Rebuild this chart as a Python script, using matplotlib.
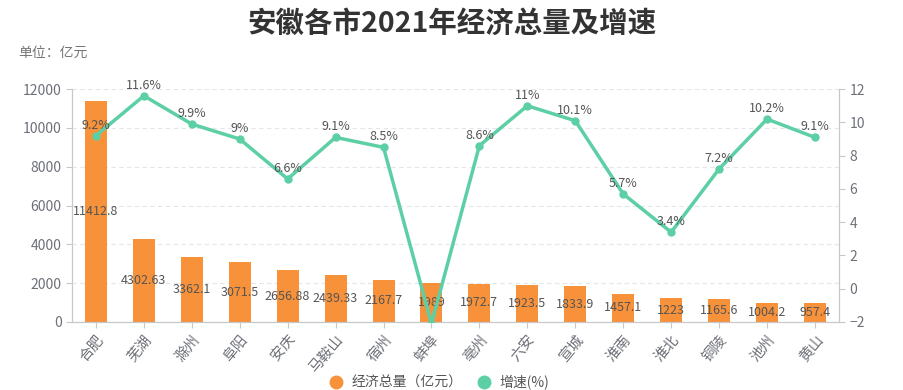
import matplotlib
matplotlib.use("Agg")
import matplotlib.pyplot as plt
from matplotlib.lines import Line2D

plt.rcParams['font.family'] = ['Noto Sans CJK SC', 'DejaVu Sans']

cities = ["合肥", "芜湖", "滁州", "阜阳", "安庆", "马鞍山", "宿州", "蚌埠",
          "亳州", "六安", "宣城", "淮南", "淮北", "铜陵", "池州", "黄山"]
gdp = [11412.8, 4302.63, 3362.1, 3071.5, 2656.88, 2439.33, 2167.7, 1989,
       1972.7, 1923.5, 1833.9, 1457.1, 1223, 1165.6, 1004.2, 957.4]
growth = [9.2, 11.6, 9.9, 9, 6.6, 9.1, 8.5, -2.1, 8.6, 11, 10.1, 5.7, 3.4, 7.2, 10.2, 9.1]
left_ticks = [0, 2000, 4000, 6000, 8000, 10000, 12000]
right_ticks = [-2, 0, 2, 4, 6, 8, 10, 12]

orange = "#f7923b"
green = "#5ccfa5"
axis_col = "#c8c8c8"
tick_col = "#6e7079"

fig = plt.figure(figsize=(9.04, 3.9), dpi=100)
ax = fig.add_axes([0.0796, 0.1744, 0.8484, 0.597])
ax2 = ax.twinx()

x = list(range(len(cities)))
bars = ax.bar(x, gdp, width=0.46, color=orange, zorder=2)
ax.bar_label(bars, labels=[f"{v:g}" for v in gdp], label_type='center',
             fontsize=9, color="#555555")
ax.set_xlim(-0.5, len(cities) - 0.5)
ax.set_ylim(0, 12000)
ax.set_yticks(left_ticks)
ax.set_yticklabels([str(t) for t in left_ticks])
ax.yaxis.grid(True, linestyle=(0, (4, 3)), color="#e3e6ee", linewidth=0.8, zorder=0)
ax.set_axisbelow(True)
ax.set_xticks(x)
ax.set_xticklabels(cities, rotation=50, ha='right', rotation_mode='anchor')

ax2.plot(x, growth, color=green, linewidth=2.5, marker='o', markersize=5,
         markerfacecolor=green, markeredgecolor=green, zorder=3)
for xi, g in zip(x, growth):
    ax2.annotate(f"{g:g}%", (xi, g), xytext=(0, 3), textcoords='offset points',
                 ha='center', va='bottom', fontsize=9, color="#555555")
ax2.set_ylim(-2, 12)
ax2.set_yticks(right_ticks)

for a in (ax, ax2):
    a.spines['top'].set_visible(False)
    for s in ('left', 'right', 'bottom'):
        a.spines[s].set_color(axis_col)
    a.tick_params(colors=tick_col, labelsize=10, length=4, width=0.8)
    a.tick_params(axis='both', color=axis_col)
ax.tick_params(axis='x', labelsize=10.5, labelcolor=tick_col)

fig.text(0.5, 0.94, "安徽各市2021年经济总量及增速", ha='center', va='center',
         fontsize=20.5, fontweight='bold', color="#333333")
fig.text(0.02, 0.865, "单位：亿元", ha='left', va='center', fontsize=10, color="#777777")

handles = [Line2D([0], [0], marker='o', color='none', markerfacecolor=orange,
                  markeredgecolor=orange, markersize=9, label="经济总量（亿元）"),
           Line2D([0], [0], marker='o', color='none', markerfacecolor=green,
                  markeredgecolor=green, markersize=9, label="增速(%)")]
leg = fig.legend(handles=handles, loc='center', bbox_to_anchor=(0.482, 0.02),
                 ncol=2, frameon=False, fontsize=10, handletextpad=0.1,
                 columnspacing=0.6, borderpad=0.1)
for t in leg.get_texts():
    t.set_color("#555555")

fig.savefig("out.png", dpi=100)
